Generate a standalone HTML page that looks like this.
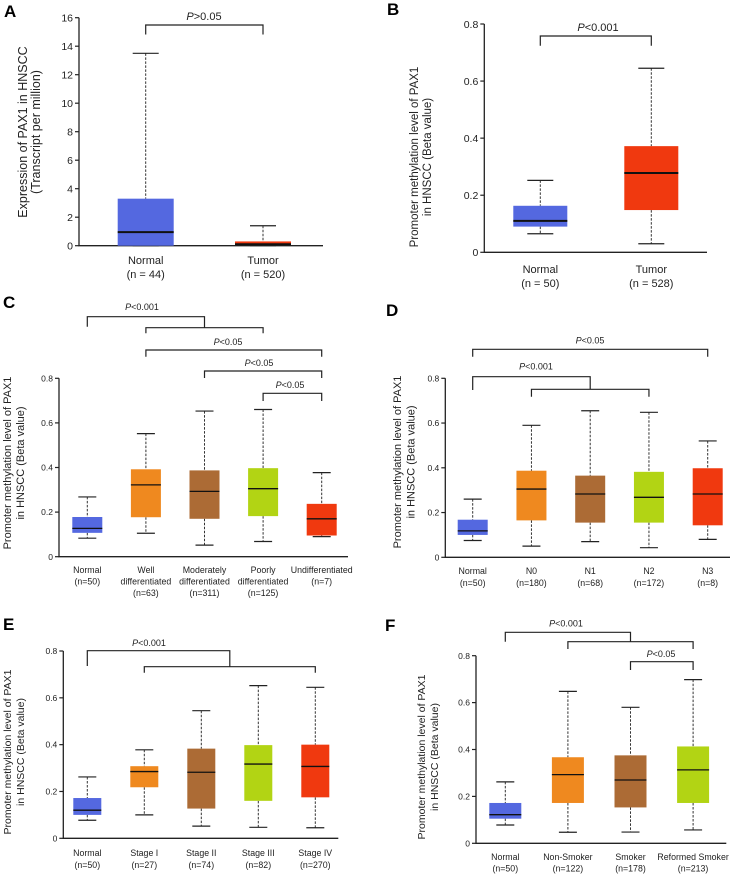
<!DOCTYPE html>
<html><head><meta charset="utf-8"><style>
html,body{margin:0;padding:0;background:#fff}
svg{display:block;font-family:"Liberation Sans",Arial,sans-serif}
</style></head><body>
<svg id="fig" width="734" height="876" viewBox="0 0 734 876" xmlns="http://www.w3.org/2000/svg"></svg>
<script>
// ---- data (q1, q3, median, low whisker, high whisker) ----
const catsA = ["Normal","Tumor"];
const nA = ["(n = 44)","(n = 520)"];
const q1A = [0, 0.05], q3A = [3.3, 0.3], medA = [0.95, 0.1], loA = [0, 0], hiA = [13.5, 1.4];
const ticksA = [0,2,4,6,8,10,12,14,16];

const catsB = ["Normal","Tumor"];
const nB = ["(n = 50)","(n = 528)"];
const q1B = [0.09, 0.148], q3B = [0.163, 0.372], medB = [0.11, 0.278], loB = [0.065, 0.03], hiB = [0.252, 0.645];
const ticksB = [0,0.2,0.4,0.6,0.8];
const ticksM = [0,0.2,0.4,0.6,0.8];

const catsC = [["Normal"],["Well","differentiated"],["Moderately","differentiated"],["Poorly","differentiated"],["Undifferentiated"]];
const nC = ["(n=50)","(n=63)","(n=311)","(n=125)","(n=7)"];
const q1C = [0.107,0.177,0.17,0.182,0.095], q3C = [0.178,0.392,0.387,0.397,0.237], medC = [0.127,0.322,0.293,0.305,0.17], loC = [0.083,0.105,0.052,0.068,0.09], hiC = [0.268,0.552,0.653,0.66,0.377];

const catsD = [["Normal"],["N0"],["N1"],["N2"],["N3"]];
const nD = ["(n=50)","(n=180)","(n=68)","(n=172)","(n=8)"];
const q1D = [0.1,0.165,0.155,0.155,0.143], q3D = [0.168,0.387,0.365,0.382,0.398], medD = [0.118,0.305,0.283,0.268,0.283], loD = [0.075,0.05,0.07,0.043,0.08], hiD = [0.26,0.59,0.655,0.648,0.52];

const catsE = [["Normal"],["Stage I"],["Stage II"],["Stage III"],["Stage IV"]];
const nE = ["(n=50)","(n=27)","(n=74)","(n=82)","(n=270)"];
const q1E = [0.1,0.218,0.127,0.16,0.175], q3E = [0.172,0.308,0.383,0.398,0.4], medE = [0.12,0.285,0.282,0.317,0.307], loE = [0.077,0.1,0.052,0.047,0.045], hiE = [0.262,0.378,0.545,0.652,0.645];

const catsF = [["Normal"],["Non-Smoker"],["Smoker"],["Reformed Smoker"]];
const nF = ["(n=50)","(n=122)","(n=178)","(n=213)"];
const q1F = [0.105,0.172,0.153,0.172], q3F = [0.172,0.367,0.375,0.413], medF = [0.122,0.293,0.27,0.313], loF = [0.078,0.047,0.048,0.057], hiF = [0.262,0.648,0.58,0.698];

const BLUE="#5468e0", ORANGE="#ef891f", BROWN="#ac6b35", GREEN="#b2d414", RED="#f0390f";
const NS="http://www.w3.org/2000/svg";
const fig=document.getElementById('fig');
function el(tag,attrs,parent,txt){const e=document.createElementNS(NS,tag);for(const k in attrs)e.setAttribute(k,attrs[k]);if(txt!==undefined)e.textContent=txt;(parent||fig).appendChild(e);return e;}

function panel(p){
  const g=el('g',{});
  
  
  const y=v=>p.y0-v*(p.y0-p.yTop)/p.max;
  const cx=i=>p.first+i*p.step;
  const L=el('text',{x:p.lx,y:p.ly,'font-size':17,'font-weight':'bold'},g,p.id);
  
  
  const ax=el('path',{d:`M${p.ax},${p.yTop}V${p.y0}H${p.axEnd}`,stroke:'#222',fill:'none','stroke-width':1.3},g);
  
  
  p.ticks.forEach(t=>{
    el('line',{x1:p.ax-4,x2:p.ax,y1:y(t),y2:y(t),stroke:'#222','stroke-width':1.2},g);
    const tl=el('text',{x:p.ax-6,y:y(t)+p.tf*0.36,'font-size':p.tf,'text-anchor':'end',fill:'#222'},g,String(t));
    
    
  });
  const yt=el('text',{transform:`translate(${p.ylx},${p.ylc}) rotate(-90)`,'font-size':p.yf,'text-anchor':'middle',fill:'#222'},g);
  
  
  el('tspan',{x:0,y:0},yt,p.yl[0]);
  el('tspan',{x:0,y:p.yls},yt,p.yl[1]);
  p.q1.forEach((_,i)=>{
    const c=cx(i),hw=p.hw,cw=p.cw;
    const bg=el('g',{},g);
    
    
    el('line',{x1:c,x2:c,y1:y(p.hi[i]),y2:y(p.q3[i]),stroke:'#333','stroke-dasharray':'2.5,1.5','stroke-width':1},bg);
    el('line',{x1:c,x2:c,y1:y(p.q1[i]),y2:y(p.lo[i]),stroke:'#333','stroke-dasharray':'2.5,1.5','stroke-width':1},bg);
    el('line',{x1:c-cw,x2:c+cw,y1:y(p.hi[i]),y2:y(p.hi[i]),stroke:'#222','stroke-width':1.2},bg);
    el('line',{x1:c-cw,x2:c+cw,y1:y(p.lo[i]),y2:y(p.lo[i]),stroke:'#222','stroke-width':1.2},bg);
    el('rect',{x:c-hw,y:y(p.q3[i]),width:2*hw,height:Math.max(1,y(p.q1[i])-y(p.q3[i])),fill:p.colors[i]},bg);
    el('line',{x1:c-hw,x2:c+hw,y1:y(p.med[i]),y2:y(p.med[i]),stroke:'#111','stroke-width':p.mw},bg);
    const xl=el('text',{x:c,y:p.xly,'font-size':p.xf,'text-anchor':'middle',fill:'#222'},g);
    
    
    const lines=(Array.isArray(p.cats[i])?p.cats[i]:[p.cats[i]]).concat([p.n[i]]);
    lines.forEach((s,k)=>el('tspan',{x:c,dy:k?p.xls:0},xl,s));
  });
  p.br.forEach(b=>{
    const bg=el('g',{stroke:'#222','stroke-width':1.2,fill:'none'},g);
    
    
    if(b.sub){
      const m=(cx(b.sub[0])+cx(b.sub[1]))/2;
      el('path',{d:`M${cx(b.a)},${b.yd}V${b.yt}H${m}V${b.ym}`},bg);
      el('path',{d:`M${cx(b.sub[0])},${b.ys}V${b.ym}H${cx(b.sub[1])}V${b.ys}`},bg);
    } else {
      el('path',{d:`M${cx(b.a)},${b.yd}V${b.yt}H${cx(b.b)}V${b.yd}`},bg);
    }
    const t=el('text',{x:b.tx,y:b.ty,'font-size':p.pf,'text-anchor':'middle',fill:'#222',stroke:'none'},bg);
    el('tspan',{'font-style':'italic'},t,'P');
    el('tspan',{},t,b.label);
  });
}
const YL=["Promoter methylation level of PAX1","in HNSCC (Beta value)"];
panel({id:'A',lx:4,ly:17,ax:79,axEnd:323,y0:245.7,yTop:17.7,max:16,ticks:ticksA,tf:10.5,
  yl:["Expression of PAX1 in HNSCC","(Transcript per million)"],ylx:27,yls:13,ylc:132,yf:12.5,
  first:145.7,step:117.3,hw:28,cw:13,mw:2,q1:q1A,q3:q3A,med:medA,lo:loA,hi:hiA,colors:[BLUE,RED],
  cats:catsA,n:nA,xly:264,xls:14,xf:11,pf:11,
  br:[{a:0,b:1,yt:25,yd:34.5,tx:204,ty:20,label:">0.05"}]});
panel({id:'B',lx:387,ly:15,ax:484.3,axEnd:707,y0:252.3,yTop:24,max:0.8,ticks:ticksB,tf:10.5,
  yl:YL,ylx:418,yls:13,ylc:157,yf:11.5,
  first:540.3,step:111,hw:27,cw:13,mw:2,q1:q1B,q3:q3B,med:medB,lo:loB,hi:hiB,colors:[BLUE,RED],
  cats:catsB,n:nB,xly:273,xls:14,xf:11,pf:11,
  br:[{a:0,b:1,yt:36,yd:45.7,tx:598,ty:31,label:"<0.001"}]});
panel({id:'C',lx:3,ly:308,ax:59,axEnd:348,y0:556.7,yTop:378.3,max:0.8,ticks:ticksM,tf:8.5,
  yl:YL,ylx:11,yls:13,ylc:463,yf:11,
  first:87.3,step:58.6,hw:15,cw:9,mw:1.3,q1:q1C,q3:q3C,med:medC,lo:loC,hi:hiC,colors:[BLUE,ORANGE,BROWN,GREEN,RED],
  cats:catsC,n:nC,xly:573,xls:11.5,xf:8.8,pf:9,
  br:[{a:0,sub:[1,3],yt:316.7,yd:326.7,ym:327.7,ys:333.3,tx:142,ty:310,label:"<0.001"},
      {a:1,b:4,yt:350,yd:356.7,tx:228,ty:345,label:"<0.05"},
      {a:2,b:4,yt:371,yd:378,tx:259,ty:366,label:"<0.05"},
      {a:3,b:4,yt:393.3,yd:401,tx:290,ty:388,label:"<0.05"}]});
panel({id:'D',lx:386,ly:316,ax:445.3,axEnd:730,y0:557.3,yTop:378.3,max:0.8,ticks:ticksM,tf:8.5,
  yl:YL,ylx:401,yls:13.5,ylc:462,yf:11,
  first:472.7,step:58.75,hw:15,cw:9,mw:1.3,q1:q1D,q3:q3D,med:medD,lo:loD,hi:hiD,colors:[BLUE,ORANGE,BROWN,GREEN,RED],
  cats:catsD,n:nD,xly:574,xls:12,xf:8.8,pf:9,
  br:[{a:0,b:4,yt:349.3,yd:356.7,tx:590,ty:343.5,label:"<0.05"},
      {a:0,sub:[1,3],yt:376.7,yd:390,ym:389.3,ys:396.7,tx:536,ty:369.5,label:"<0.001"}]});
panel({id:'E',lx:3,ly:630,ax:63.3,axEnd:338.3,y0:838.3,yTop:651,max:0.8,ticks:ticksM,tf:8.5,
  yl:YL,ylx:11,yls:13,ylc:752,yf:10.5,
  first:87.3,step:57,hw:14,cw:9,mw:1.3,q1:q1E,q3:q3E,med:medE,lo:loE,hi:hiE,colors:[BLUE,ORANGE,BROWN,GREEN,RED],
  cats:catsE,n:nE,xly:856,xls:12,xf:8.8,pf:9,
  br:[{a:0,sub:[1,4],yt:650.7,yd:666,ym:666.7,ys:672.7,tx:149,ty:646,label:"<0.001"}]});
panel({id:'F',lx:385,ly:631,ax:476,axEnd:726.3,y0:843.3,yTop:655.7,max:0.8,ticks:ticksM,tf:8.5,
  yl:YL,ylx:425,yls:13,ylc:757,yf:10.5,
  first:505.3,step:62.6,hw:16,cw:9,mw:1.3,q1:q1F,q3:q3F,med:medF,lo:loF,hi:hiF,colors:[BLUE,ORANGE,BROWN,GREEN],
  cats:catsF,n:nF,xly:860,xls:11.5,xf:8.8,pf:9,
  br:[{a:0,sub:[1,3],yt:632.3,yd:641.7,ym:641.7,ys:649,tx:566,ty:626.5,label:"<0.001"},
      {a:2,b:3,yt:661.7,yd:670,tx:661,ty:657,label:"<0.05"}]});
</script>
</body></html>
